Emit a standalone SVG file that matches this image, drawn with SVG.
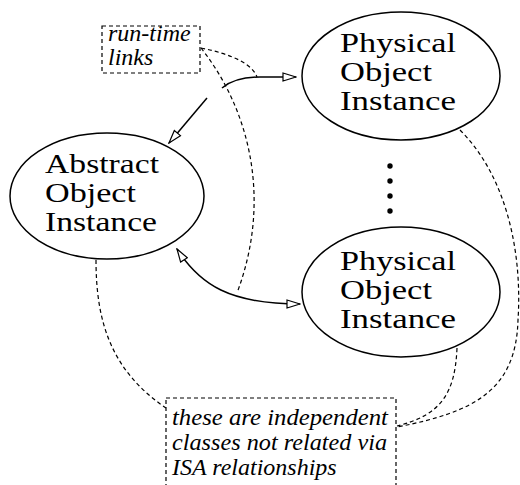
<svg xmlns="http://www.w3.org/2000/svg" width="520" height="485" viewBox="0 0 520 485">
<style>
.node{fill:#fff;stroke:#000;stroke-width:1.5}
.lbl{font-family:'Liberation Serif','Times New Roman',serif;font-size:27px;fill:#000}
.note{font-family:'Liberation Serif','Times New Roman',serif;font-style:italic;font-size:24px;fill:#000}
.box{fill:#fff;stroke:#000;stroke-width:1.2;stroke-dasharray:4 3}
.dash{fill:none;stroke:#000;stroke-width:1.2;stroke-dasharray:4 3}
.arr{fill:none;stroke:#000;stroke-width:1.5}
</style>
<defs>
<marker id="ah" viewBox="0 0 15 10" refX="14" refY="5" markerWidth="15" markerHeight="10" markerUnits="userSpaceOnUse" orient="auto-start-reverse">
<path d="M1,1 L14,5 L1,9 Z" fill="#fff" stroke="#000" stroke-width="1.2"/>
</marker>
</defs>
<g id="connectors">
<path class="dash" d="M201,48 Q250,58 257,77"/>
<path class="dash" d="M201,48 C250,110 272,200 237,293"/>
<path class="dash" d="M460,130 C510,180 522,260 518,320 C516,390 475,412 397,427"/>
<path class="dash" d="M457,348 C455,395 440,415 397,426"/>
<path class="dash" d="M96,260 C96,320 110,370 166,408"/>
<path class="arr" d="M222,88 Q235,77 260,77 L296,77" marker-end="url(#ah)"/>
<path class="arr" d="M207,98 L169,143" marker-end="url(#ah)"/>
<path class="arr" d="M177,249 C200,285 230,304 300,304" marker-start="url(#ah)" marker-end="url(#ah)"/>
</g>
<g id="physical1">
<ellipse class="node" cx="401" cy="76" rx="99" ry="64"/>
<text class="lbl" x="340" y="52" textLength="116" lengthAdjust="spacingAndGlyphs">Physical</text>
<text class="lbl" x="340" y="81" textLength="92" lengthAdjust="spacingAndGlyphs">Object</text>
<text class="lbl" x="340" y="110" textLength="116" lengthAdjust="spacingAndGlyphs">Instance</text>
</g>
<g id="abstract">
<ellipse class="node" cx="107" cy="196" rx="97" ry="63"/>
<text class="lbl" x="45" y="173" textLength="114" lengthAdjust="spacingAndGlyphs">Abstract</text>
<text class="lbl" x="45" y="202" textLength="91" lengthAdjust="spacingAndGlyphs">Object</text>
<text class="lbl" x="45" y="231" textLength="112" lengthAdjust="spacingAndGlyphs">Instance</text>
</g>
<g id="physical2">
<ellipse class="node" cx="401" cy="292" rx="99" ry="65"/>
<text class="lbl" x="340" y="270" textLength="116" lengthAdjust="spacingAndGlyphs">Physical</text>
<text class="lbl" x="340" y="299" textLength="92" lengthAdjust="spacingAndGlyphs">Object</text>
<text class="lbl" x="340" y="328" textLength="116" lengthAdjust="spacingAndGlyphs">Instance</text>
</g>
<g id="ellipsis">
<circle cx="390" cy="166" r="2.7"/>
<circle cx="390" cy="181" r="2.7"/>
<circle cx="390" cy="196" r="2.7"/>
<circle cx="390" cy="211" r="2.7"/>
</g>
<g id="runtime-note">
<rect class="box" x="102" y="26" width="98" height="47"/>
<text class="note" x="108" y="41">run-time</text>
<text class="note" x="108" y="65">links</text>
</g>
<g id="isa-note">
<rect class="box" x="166" y="398" width="230" height="95"/>
<text class="note" x="172" y="425" textLength="216" lengthAdjust="spacingAndGlyphs">these are independent</text>
<text class="note" x="172" y="450" textLength="215" lengthAdjust="spacingAndGlyphs">classes not related via</text>
<text class="note" x="172" y="475">ISA relationships</text>
</g>
</svg>
